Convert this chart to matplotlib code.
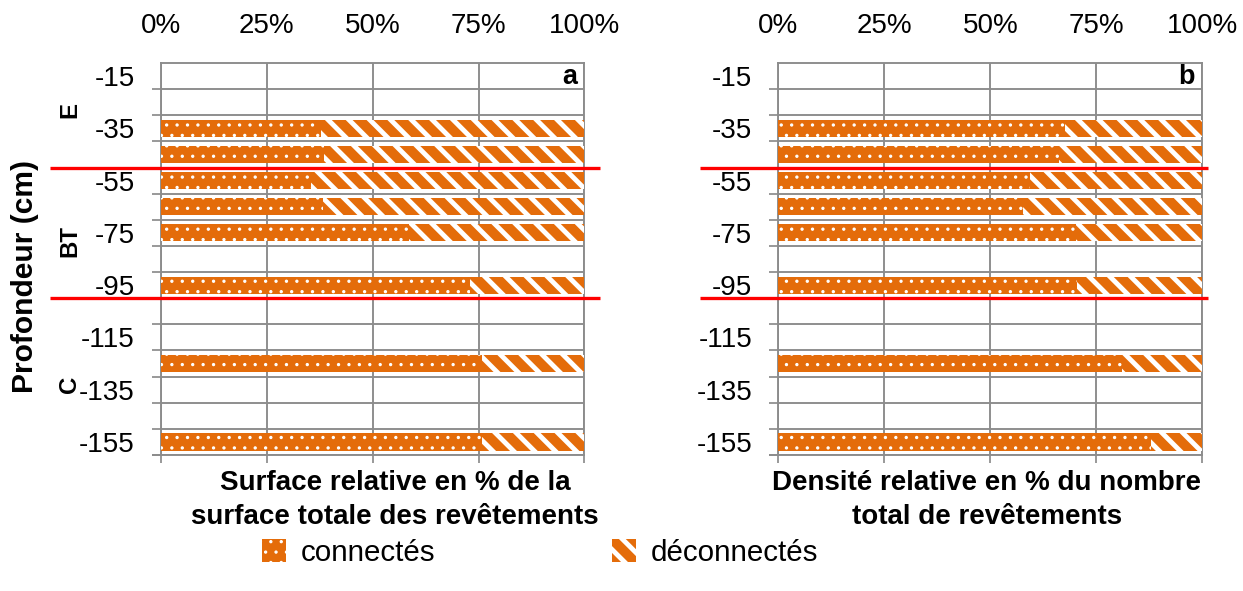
import matplotlib
matplotlib.use("Agg")
import matplotlib.pyplot as plt
import matplotlib.transforms as mtransforms

plt.rcParams['font.family'] = ['Liberation Sans', 'DejaVu Sans']

# Depth rows every 10 cm; only every other row carries a label
depth_rows = [-15, -25, -35, -45, -55, -65, -75, -85, -95, -105, -115, -125, -135, -145, -155]
depth_tick_labels = ["-15", "-35", "-55", "-75", "-95", "-115", "-135", "-155"]
depth_tick_positions = [-15, -35, -55, -75, -95, -115, -135, -155]

# Sampled depths (cm)
sample_depths = [-35, -45, -55, -65, -75, -95, -125, -155]

# a: relative surface (% of total coating surface)
surface_connected = [37.8, 38.4, 35.4, 38.2, 58.6, 73.0, 75.7, 75.7]
surface_disconnected = [62.2, 61.6, 64.6, 61.8, 41.4, 27.0, 24.3, 24.3]

# b: relative density (% of total number of coatings)
density_connected = [67.6, 66.3, 59.4, 57.6, 70.2, 70.4, 81.1, 87.9]
density_disconnected = [32.4, 33.7, 40.6, 42.4, 29.8, 29.6, 18.9, 12.1]

series_names = ["connectés", "déconnectés"]

# Soil horizons
horizon_names = ["E", "BT", "C"]
horizon_label_depths = [-28, -78, -133]
horizon_boundaries = [-50, -100]

percent_ticks = [0, 25, 50, 75, 100]
percent_labels = ["0%", "25%", "50%", "75%", "100%"]

ORANGE = "#E46C0A"
GRID = "#8C8C8C"
DPI = 125
W, H = 1243, 591
DOT_LW, STRIPE_LW = 0.7, 2.8


def px(v):
    return v * 72.0 / DPI


def hatch_lw(bars, lw):
    for p in bars:
        if hasattr(p, "set_hatch_linewidth"):
            p.set_hatch_linewidth(lw)


fig = plt.figure(figsize=(W / DPI, H / DPI), dpi=DPI)
ax_a = fig.add_axes([161 / W, 1 - 455 / H, 423.5 / W, 392 / H])
ax_b = fig.add_axes([778.3 / W, 1 - 455 / H, 424 / W, 392 / H])


def draw_panel(ax, connected, disconnected, letter, red_x):
    b1 = ax.barh(sample_depths, connected, height=6.6, color=ORANGE,
                 edgecolor="white", linewidth=0, hatch="..", zorder=3,
                 label=series_names[0])
    b2 = ax.barh(sample_depths, disconnected, left=connected, height=6.6,
                 color=ORANGE, edgecolor="white", linewidth=0, hatch="\\\\",
                 zorder=3, label=series_names[1])
    hatch_lw(b1, DOT_LW)
    hatch_lw(b2, STRIPE_LW)

    ax.set_xlim(0, 100)
    ax.set_ylim(-160, -10)
    ax.set_axisbelow(True)

    # value axis: labels on top, small outward marks at the bottom
    ax.set_xticks(percent_ticks)
    ax.set_xticklabels(percent_labels)
    ax.tick_params(axis="x", which="major", bottom=True, top=True,
                   labelbottom=False, labeltop=True, length=px(8), width=1,
                   color=GRID, direction="out", pad=px(16), labelsize=16)
    for t in ax.xaxis.get_major_ticks():
        t.tick2line.set_visible(False)
    ax.grid(axis="x", which="major", color=GRID, lw=1.1)

    # depth axis: labels every 20 cm, row boundaries as gridlines
    ax.set_yticks(depth_tick_positions)
    ax.set_yticklabels(depth_tick_labels)
    ax.set_yticks([d - 5 for d in depth_rows] + [depth_rows[-1] - 5], minor=True)
    ax.tick_params(axis="y", which="major", length=0, pad=px(26), labelsize=16)
    ax.tick_params(axis="y", which="minor", length=px(9), width=1,
                   color=GRID, direction="out")
    ax.grid(axis="y", which="minor", color=GRID, lw=1.1)

    for s in ax.spines.values():
        s.set_color(GRID)
        s.set_linewidth(1.1)

    ax.text(0.982, 0.946, letter, transform=ax.transAxes, ha="right",
            va="baseline", fontweight="bold", fontsize=15.5)

    blend = mtransforms.blended_transform_factory(ax.transAxes, ax.transData)
    for yb in horizon_boundaries:
        ax.plot(red_x, [yb, yb], transform=blend, color="#FF0000", lw=1.9,
                clip_on=False, zorder=6, solid_capstyle="butt")
    return b1, b2


h1, h2 = draw_panel(ax_a, surface_connected, surface_disconnected, "a",
                    [(50 - 161) / 423.5, (600 - 161) / 423.5])
draw_panel(ax_b, density_connected, density_disconnected, "b",
           [(700 - 778.3) / 424, (1208 - 778.3) / 424])

blend_a = mtransforms.blended_transform_factory(ax_a.transAxes, ax_a.transData)
for name, yd in zip(horizon_names, horizon_label_depths):
    ax_a.text(-0.215, yd, name, transform=blend_a, rotation=90, ha="center",
              va="center", fontweight="bold", fontsize=13.8)

fig.text(25 / W, 1 - 276 / H, "Profondeur (cm)", rotation=90, ha="center",
         va="center", fontweight="bold", fontsize=17.3)

fig.text(395 / W, 1 - 500 / H,
         "Surface relative en % de la\nsurface totale des revêtements",
         ha="center", va="center", fontweight="bold", fontsize=16,
         linespacing=1.4)
fig.text(987 / W, 1 - 500 / H,
         "Densité relative en % du nombre\ntotal de revêtements",
         ha="center", va="center", fontweight="bold", fontsize=16,
         linespacing=1.4)

leg = fig.legend(handles=[h1, h2], labels=series_names, loc="center",
                 bbox_to_anchor=(540 / W, 1 - 553 / H), ncol=2, frameon=False,
                 fontsize=17, handlelength=0.8, handleheight=0.8,
                 handletextpad=0.5, columnspacing=6.0)
for p, lw in zip(leg.get_patches(), [DOT_LW, STRIPE_LW]):
    if hasattr(p, "set_hatch_linewidth"):
        p.set_hatch_linewidth(lw)

fig.savefig("out.png", dpi=DPI)
